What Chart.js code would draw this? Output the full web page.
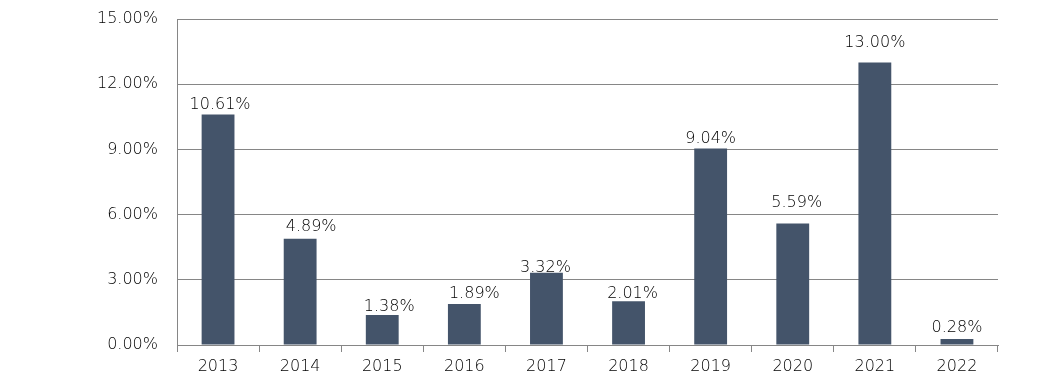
<!DOCTYPE html>
<html><head><meta charset="utf-8">
<script src="https://cdn.jsdelivr.net/npm/chart.js@4/dist/chart.umd.min.js"></script>
<style>html,body{margin:0;padding:0;background:#fff}#wrap{width:1041px;height:385px}</style>
</head><body><div id="wrap"><canvas id="c" width="1041" height="385"></canvas></div>
<script>
const categories = ['2013','2014','2015','2016','2017','2018','2019','2020','2021','2022'];
const values = [10.61, 4.89, 1.38, 1.89, 3.32, 2.01, 9.04, 5.59, 13.00, 0.28];
const yTicks = [0, 3, 6, 9, 12, 15];

// label placement style (horizontal nudge, gap above bar), as in the original layout
const labelDx  = [2, 11, 7, 10, -1, 4, 0, 4, 0, 0];
const labelGap = [5, 8, 4, 6, 1, 3, 6, 17, 15, 7];

const FONT = '"DejaVu Sans", sans-serif';
const WEIGHT = 200;
const labelPlugin = {
  id: 'barLabels',
  afterDatasetsDraw(chart) {
    const ctx = chart.ctx;
    const meta = chart.getDatasetMeta(0);
    ctx.save();
    ctx.font = WEIGHT + ' 16px ' + FONT;
    ctx.fillStyle = '#000';
    ctx.textAlign = 'center';
    ctx.textBaseline = 'alphabetic';
    meta.data.forEach((bar, i) => {
      ctx.fillText(values[i].toFixed(2) + '%', bar.x + labelDx[i], bar.y - labelGap[i]);
    });
    ctx.restore();
  }
};

new Chart(document.getElementById('c'), {
  type: 'bar',
  data: { labels: categories, datasets: [{ data: values, backgroundColor: '#44546A', borderWidth: 0, barPercentage: 0.8, categoryPercentage: 0.5 }] },
  options: {
    responsive: false, animation: false,
    layout: { padding: { top: 19, right: 43, left: 0, bottom: 0 } },
    plugins: { legend: { display: false }, tooltip: { enabled: false } },
    scales: {
      x: {
        grid: { display: true, drawOnChartArea: false, drawTicks: true, tickLength: 7, color: '#868686', offset: true },
        border: { color: '#868686' },
        ticks: { color: '#000', font: { family: FONT, size: 16, weight: WEIGHT }, padding: 5, maxRotation: 0 },
        afterFit(s) { s.height = 40; s.paddingLeft = 0; s.paddingRight = 0; }
      },
      y: {
        min: 0, max: 15,
        afterBuildTicks(s) { s.ticks = yTicks.map(v => ({ value: v })); },
        grid: { color: '#868686', drawTicks: false },
        border: { color: '#868686' },
        ticks: { color: '#000', font: { family: FONT, size: 16, weight: WEIGHT }, padding: 19, callback: v => Number(v).toFixed(2) + '%' },
        afterFit(s) { s.width = 177; s.paddingTop = 0; s.paddingBottom = 0; }
      }
    }
  },
  plugins: [labelPlugin]
});
</script></body></html>
